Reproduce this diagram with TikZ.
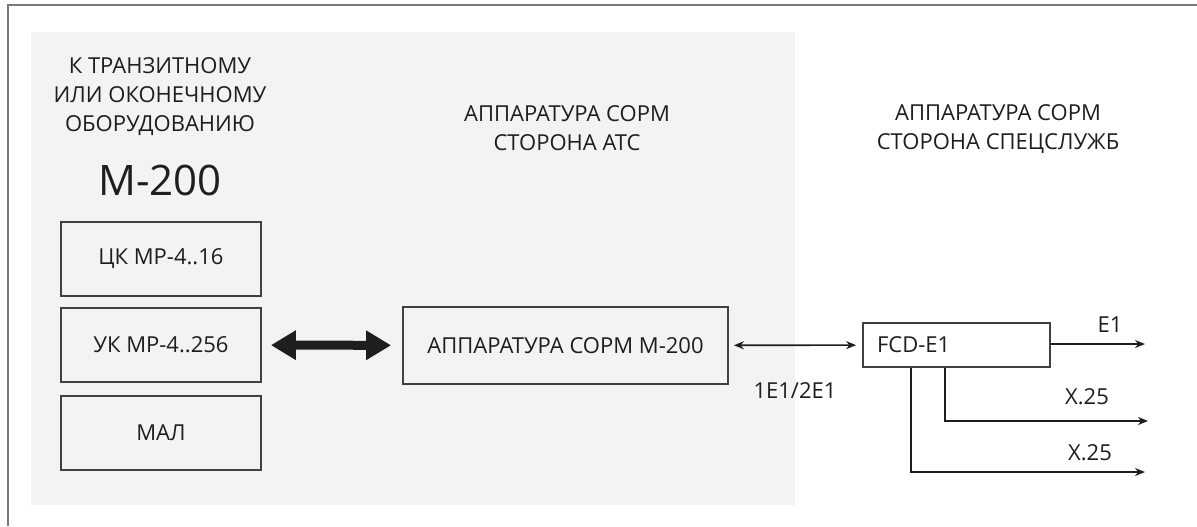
\documentclass[tikz,border=0pt]{standalone}
\usepackage{fontspec}
\setmainfont{Open Sans}
\usetikzlibrary{arrows.meta}
\definecolor{bggray}{HTML}{F3F3F3}
\definecolor{framegray}{HTML}{7A7A7A}
\definecolor{ink}{HTML}{1E1E1E}

\begin{document}
\begin{tikzpicture}[x=0.5pt,y=-0.5pt,text=ink,font=\fontsize{11}{14}\selectfont]
%\draw[help lines] (0,0) grid (1197,526);
\tikzstyle{blk}=[rectangle,draw=ink!85,line width=0.9pt,inner sep=0pt,minimum width=100pt,minimum height=37pt]
\tikzstyle{head}=[align=center,font=\fontsize{11}{14.5}\selectfont]
\tikzstyle{lbl}=[inner sep=0pt]
\tikzstyle{wire}=[draw=ink,line width=0.8pt,-{Stealth[length=5pt,width=4pt]}]

\useasboundingbox (0,0) rectangle (1197,526);
\fill[bggray] (31,32) rectangle (795,505);
\draw[framegray,line width=1.3pt] (8,526) -- (8,5) -- (1197,5);

\node[head] (left) at (160,97) {К ТРАНЗИТНОМУ\\ИЛИ ОКОНЕЧНОМУ\\ОБОРУДОВАНИЮ};
\node[lbl,font=\fontsize{21}{25}\selectfont] (m200) at (160,180) {М-200};

\node[blk] (ck) at (161,259) {ЦК МР-4..16};
\node[blk] (uk) at (161,345) {УК МР-4..256};
\node[blk] (mal) at (161,433) {МАЛ};

\node[head] (ats) at (567,128) {АППАРАТУРА СОРМ\\СТОРОНА АТС};
\node[blk,minimum width=162.5pt,minimum height=38.5pt] (sorm) at (565.5,345.5) {АППАРАТУРА СОРМ М-200};

\node[head] (spec) at (998,129) {АППАРАТУРА СОРМ\\СТОРОНА СПЕЦСЛУЖБ};
\node[blk,fill=white,minimum width=93.5pt,minimum height=22pt,text width=79.5pt,inner sep=7pt,align=left] (fcd) at (956.5,345) {FCD-E1};

\coordinate (e1) at (1145,344);
\coordinate (xa) at (1148,421);
\coordinate (xb) at (1145,472);

\draw[ink,line width=4.5pt,{Triangle[width=14pt,length=12.5pt]}-{Triangle[width=14pt,length=12.5pt]},shorten <=4.5pt,shorten >=5.5pt] (uk) -- (sorm);
\draw[wire,{Stealth[length=5pt,width=4pt]}-{Stealth[length=5pt,width=4pt]},shorten <=2.5pt,shorten >=3pt] (sorm) -- (fcd);
\node[lbl] (rate) at (795,391) {1E1/2E1};

\draw[wire] (fcd.east |- e1) -- (e1);
\node[lbl] (le1) at (1110,325) {E1};
\draw[wire] ([xshift=-5.75pt]fcd.south) |- (xa);
\node[lbl] (lxa) at (1087,397) {X.25};
\draw[wire] ([xshift=-22.75pt]fcd.south) |- (xb);
\node[lbl] (lxb) at (1090,453) {X.25};
\end{tikzpicture}
\end{document}
